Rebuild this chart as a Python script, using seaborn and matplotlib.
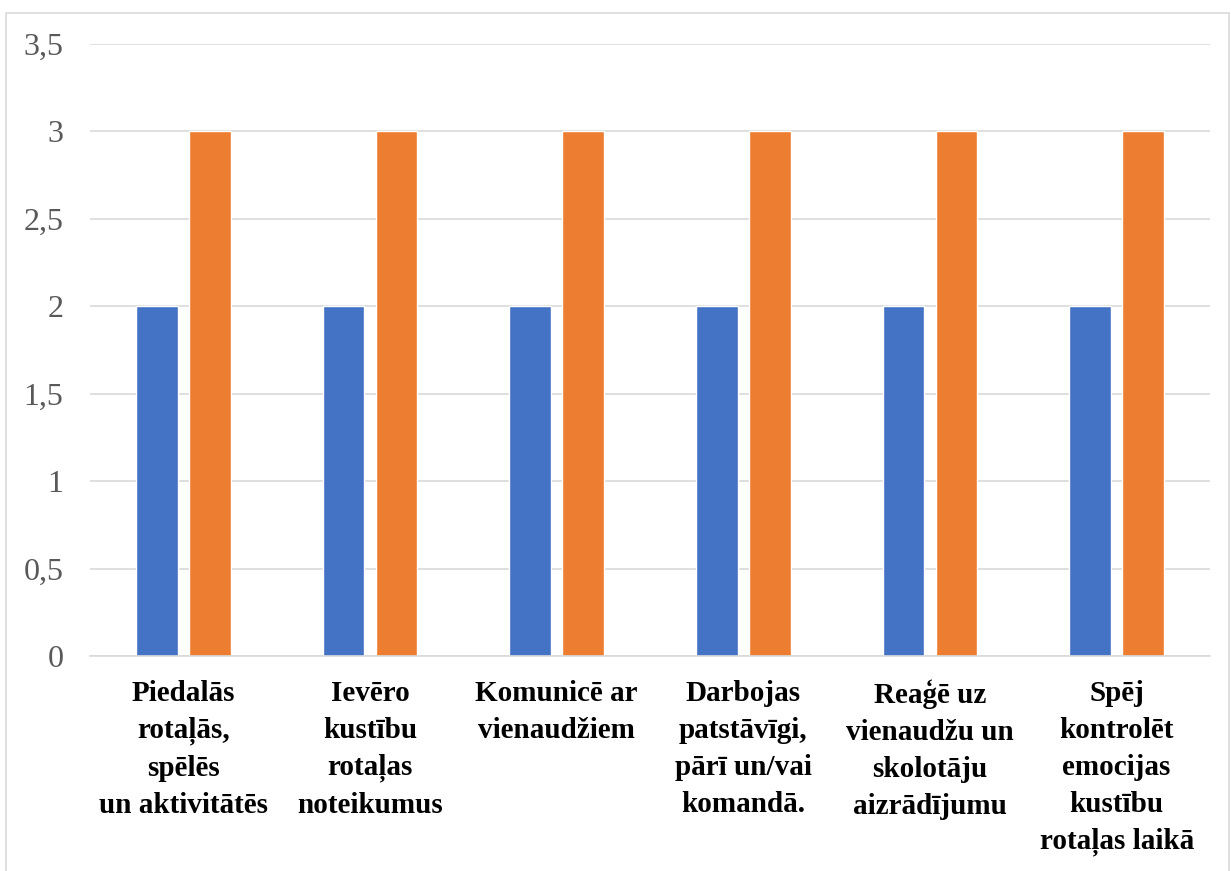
import matplotlib
matplotlib.use("Agg")
import matplotlib.pyplot as plt
import seaborn as sns
import pandas as pd
from matplotlib.patches import Rectangle

categories = [
    "Piedalās\nrotaļās,\nspēlēs\nun aktivitātēs",
    "Ievēro\nkustību\nrotaļas\nnoteikumus",
    "Komunicē ar\nvienaudžiem",
    "Darbojas\npatstāvīgi,\npārī un/vai\nkomandā.",
    "Reaģē uz\nvienaudžu un\nskolotāju\naizrādījumu",
    "Spēj\nkontrolēt\nemocijas\nkustību\nrotaļas laikā",
]
series_names = ["Sērija 1", "Sērija 2"]
series1 = [2, 2, 2, 2, 2, 2]
series2 = [3, 3, 3, 3, 3, 3]
yticks = [0, 0.5, 1, 1.5, 2, 2.5, 3, 3.5]
ytick_labels = ["0", "0,5", "1", "1,5", "2", "2,5", "3", "3,5"]

df = pd.DataFrame({
    "cat": categories * 2,
    "series": [series_names[0]] * len(categories) + [series_names[1]] * len(categories),
    "value": series1 + series2,
})

sns.set_theme(style="white")
plt.rcParams["font.family"] = ["Liberation Serif", "DejaVu Serif"]

W, H = 1231, 871
fig = plt.figure(figsize=(W / 100, H / 100), dpi=100)
ax = fig.add_axes([90 / W, (H - 656) / H, (1210 - 90) / W, (656 - 44) / H])

sns.barplot(data=df, x="cat", y="value", hue="series",
            palette=["#4472C4", "#ED7D31"], width=0.568, gap=0.21,
            legend=False, ax=ax, saturation=1)

ax.set_ylim(0, 3.5)
ax.set_xlim(-0.5, len(categories) - 0.5)
ax.set_yticks(yticks)
ax.set_yticklabels(ytick_labels, fontsize=23, color="#595959")
ax.set_xticks(range(len(categories)))
ax.set_xticklabels(categories, fontsize=21, fontweight="bold", color="black",
                   linespacing=1.48, va="top")
ax.tick_params(axis="y", length=0, pad=19)
ax.tick_params(axis="x", length=0, pad=17)
ax.set_xlabel("")
ax.set_ylabel("")
ax.yaxis.grid(True, color="#D9D9D9", linewidth=1.2)
ax.set_axisbelow(True)
for s in ["top", "right", "left"]:
    ax.spines[s].set_visible(False)
ax.spines["bottom"].set_color("#D9D9D9")
ax.spines["bottom"].set_linewidth(1.2)

fig.patches.append(Rectangle((6 / W, -0.01), (1229 - 6) / W, (H - 13) / H + 0.01,
                             transform=fig.transFigure, fill=False,
                             edgecolor="#D9D9D9", linewidth=1.2))

fig.savefig("out.png", dpi=100)
